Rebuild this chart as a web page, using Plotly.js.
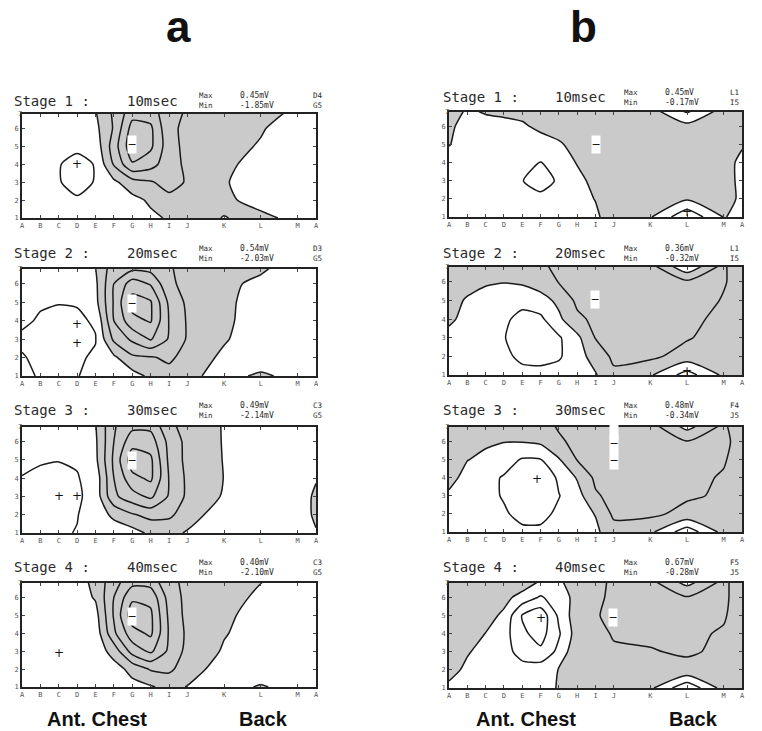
<!DOCTYPE html>
<html><head><meta charset="utf-8">
<script src="https://cdn.plot.ly/plotly-3.0.1.min.js"></script>
<style>html,body{margin:0;padding:0;background:#fff}#chart{width:762px;height:731px}</style>
</head><body><div id="chart"></div>
<script>
// ---- data ----
const columnLabels = ['A','B','C','D','E','F','G','H','I','J','K','L','M','A'];
const columnPos = [0,1,2,3,4,5,6,7,8,9,11,13,15,16];
const rowPos = [1,2,3,4,5,6,7];
const rowLabels = ['1','2','3','4','5','6'];
const panelNames = ['a','b'];
const regionNames = ['Ant. Chest','Back'];
const stageNames = ['Stage 1 :','Stage 2 :','Stage 3 :','Stage 4 :'];
const stageTimes = ['10msec','20msec','30msec','40msec'];
const mapMax = ['0.45mV','0.54mV','0.49mV','0.40mV','0.45mV','0.36mV','0.48mV','0.67mV'];
const mapMin = ['-1.85mV','-2.03mV','-2.14mV','-2.10mV','-0.17mV','-0.32mV','-0.34mV','-0.28mV'];
const mapMaxLead = ['D4','D3','C3','C3','L1','L1','F4','F5'];
const mapMinLead = ['G5','G5','G5','G5','I5','I5','J5','J5'];
const levelLow  = [-2,-2,-2,-2,-0.25,-0.25,-0.25,-0.25];
const levelHigh = [0.5,0.5,0.5,0.5,0.5,0.5,0.5,0.5];
const levelStep = [0.5,0.5,0.5,0.5,0.25,0.25,0.25,0.25];
const plusX = [[3],[3,3],[2,3],[2],[13],[13],[4.8],[5]];
const plusY = [[4],[3.8,2.8],[3,3],[2.9],[1.25],[1.22],[3.95],[4.85]];
const minusX = [[6],[6],[6],[6],[8],[7.95],[9,9],[8.95]];
const minusY = [[5.1],[4.95],[4.95],[4.95],[5],[5.05],[5.9,4.95],[4.87]];
const blankX = [[],[],[],[],[],[],[9],[]];
const blankY = [[],[],[],[],[],[],[6.55],[]];

// potential grids, rows y = 1..7, columns A..J,K,L,M,A
const potA1 = [
 [0.2,0.2,0.2,0.2,0.2,0.2,0.2,0.1,-0.05,-0.4,0.04,-0.3,0.35,0.3],
 [0.2,0.25,0.3,0.46,0.3,0.25,0.15,-0.08,-0.35,-0.35,-0.25,0.45,0.3,0.3],
 [0.2,0.3,0.48,0.62,0.48,0.1,-0.3,-0.45,-0.7,-0.45,-0.05,0.3,0.25,0.2],
 [0.2,0.3,0.48,0.62,0.48,-0.55,-1.45,-1.2,-0.7,-0.4,-0.15,0.25,0.2,0.2],
 [0.2,0.2,0.3,0.42,0.3,-0.75,-1.85,-1.6,-0.7,-0.35,-0.2,0.05,0.2,0.2],
 [0.2,0.2,0.2,0.2,0.13,-0.55,-1.7,-1.6,-0.6,-0.4,-0.3,-0.05,0.3,0.3],
 [0.2,0.2,0.2,0.2,0.02,-0.6,-1.25,-1.2,-0.7,-0.45,-0.35,-0.2,0.08,0.2]];
const potA2 = [
 [0.4,0.54,0.56,0.52,0.35,0.25,0.2,-0.1,-0.3,-0.1,0.15,-0.08,0.15,0.2],
 [0.48,0.56,0.58,0.55,0.45,0.1,-0.4,-0.45,-0.6,-0.3,0.1,0.3,0.25,0.2],
 [0.55,0.58,0.6,0.6,0.52,-0.6,-1.1,-1.55,-0.95,-0.45,-0.05,0.3,0.25,0.2],
 [0.45,0.53,0.56,0.57,0.45,-1.0,-1.85,-2.05,-0.98,-0.45,-0.1,0.25,0.2,0.2],
 [0.35,0.47,0.49,0.47,0.15,-1.05,-2.2,-2.05,-0.9,-0.4,-0.1,0.2,0.2,0.2],
 [0.3,0.35,0.35,0.3,0.1,-1.0,-1.75,-1.45,-0.6,-0.35,-0.1,0.1,0.2,0.2],
 [0.25,0.25,0.25,0.2,-0.02,-0.75,-0.7,-0.7,-0.55,-0.3,-0.2,-0.1,0.2,0.2]];
const potA3 = [
 [0.56,0.58,0.56,0.48,0.35,0.25,0.2,-0.1,-0.15,0.05,0.25,0.25,0.15,0.02],
 [0.58,0.6,0.58,0.52,0.25,-0.1,-0.45,-0.65,-0.6,-0.25,0.3,0.25,0.15,-0.05],
 [0.58,0.6,0.6,0.58,0.3,-0.9,-1.3,-1.6,-0.95,-0.4,0.05,0.2,0.15,-0.05],
 [0.52,0.57,0.58,0.53,0.3,-1.0,-1.85,-2.1,-0.98,-0.4,0.01,0.2,0.2,0.02],
 [0.38,0.47,0.49,0.45,0.12,-1.1,-2.3,-2.1,-0.9,-0.35,0.02,0.2,0.2,0.2],
 [0.35,0.38,0.4,0.3,0.08,-1.0,-1.8,-1.75,-0.85,-0.35,0.03,0.2,0.2,0.2],
 [0.3,0.3,0.3,0.2,0.02,-0.95,-1.3,-1.3,-0.6,-0.3,0.03,0.2,0.2,0.2]];
const potA4 = [
 [0.3,0.3,0.32,0.32,0.3,0.25,0.15,0.05,-0.15,0.02,0.2,-0.05,0.2,0.2],
 [0.3,0.33,0.36,0.35,0.3,0.2,-0.15,-0.55,-0.6,-0.25,0.25,0.3,0.2,0.2],
 [0.3,0.35,0.4,0.36,0.3,-0.2,-1.2,-1.6,-0.9,-0.35,0.05,0.25,0.2,0.2],
 [0.3,0.33,0.35,0.33,0.3,-0.9,-1.8,-2.1,-0.95,-0.4,-0.03,0.2,0.2,0.2],
 [0.28,0.3,0.3,0.3,0.18,-1.05,-2.3,-2.1,-0.9,-0.35,-0.1,0.2,0.2,0.2],
 [0.25,0.25,0.25,0.25,-0.05,-1.0,-1.9,-1.85,-0.8,-0.35,-0.2,0.1,0.2,0.2],
 [0.2,0.2,0.2,0.2,-0.15,-0.8,-1.25,-1.2,-0.65,-0.35,-0.2,-0.03,0.2,0.2]];
const potB1 = [
 [0.15,0.15,0.15,0.15,0.15,0.15,0.15,0.12,0.05,-0.15,-0.02,0.45,-0.01,0.05],
 [0.15,0.15,0.15,0.15,0.15,0.15,0.15,0.1,-0.01,-0.12,-0.15,-0.03,-0.1,0.05],
 [0.12,0.15,0.15,0.15,0.24,0.4,0.2,0.05,-0.05,-0.12,-0.12,-0.1,-0.08,0.05],
 [0.1,0.12,0.15,0.15,0.15,0.26,0.1,-0.01,-0.12,-0.14,-0.12,-0.1,-0.08,0.05],
 [-0.01,0.1,0.12,0.12,0.12,0.12,0.03,-0.08,-0.17,-0.15,-0.12,-0.1,-0.08,-0.02],
 [-0.05,0.1,0.1,0.1,0.04,-0.06,-0.1,-0.12,-0.14,-0.12,-0.1,-0.08,-0.1,-0.08],
 [-0.15,0.02,-0.05,-0.1,-0.1,-0.1,-0.1,-0.1,-0.1,-0.1,-0.05,0.35,-0.05,-0.1]];
const potB2 = [
 [0.1,0.12,0.15,0.15,0.18,0.2,0.15,0.1,0.02,-0.2,-0.03,0.36,-0.05,-0.08],
 [0.1,0.15,0.18,0.2,0.3,0.3,0.28,0.1,-0.1,-0.3,-0.3,-0.15,-0.1,-0.08],
 [0.1,0.15,0.18,0.24,0.35,0.35,0.28,0.06,-0.26,-0.3,-0.3,-0.27,-0.15,-0.1],
 [-0.06,0.1,0.15,0.22,0.3,0.3,0.05,-0.2,-0.3,-0.3,-0.3,-0.3,-0.2,-0.1],
 [-0.1,0.03,0.1,0.15,0.2,0.1,-0.06,-0.3,-0.32,-0.32,-0.3,-0.32,-0.24,-0.12],
 [-0.12,-0.1,-0.03,-0.01,-0.04,-0.12,-0.26,-0.3,-0.32,-0.3,-0.3,-0.3,-0.26,-0.2],
 [-0.15,-0.15,-0.12,-0.1,-0.12,-0.23,-0.29,-0.3,-0.3,-0.3,-0.26,0.3,-0.26,-0.2]];
const potB3 = [
 [0.1,0.12,0.15,0.18,0.2,0.2,0.15,0.1,0.05,-0.15,-0.05,0.4,-0.08,-0.1],
 [0.08,0.12,0.18,0.22,0.32,0.32,0.2,0.1,-0.01,-0.3,-0.3,-0.18,-0.15,-0.12],
 [0.05,0.1,0.18,0.27,0.4,0.42,0.26,0.1,-0.22,-0.32,-0.32,-0.28,-0.22,-0.15],
 [-0.1,0.1,0.18,0.27,0.4,0.48,0.2,-0.02,-0.3,-0.33,-0.32,-0.28,-0.24,-0.18],
 [-0.1,-0.008,0.06,0.15,0.27,0.26,0.02,-0.26,-0.32,-0.34,-0.32,-0.3,-0.26,-0.2],
 [-0.15,-0.12,-0.04,-0.01,-0.01,-0.05,-0.22,-0.3,-0.33,-0.34,-0.3,-0.26,-0.28,-0.2],
 [-0.12,-0.12,-0.12,-0.12,-0.12,-0.18,-0.28,-0.32,-0.33,-0.33,-0.3,0.15,-0.26,-0.2]];
const potB4 = [
 [0.05,0.1,0.1,0.1,0.1,0.05,-0.01,-0.1,-0.12,-0.12,-0.05,0.45,-0.1,-0.1],
 [-0.08,0.05,0.1,0.12,0.15,0.1,-0.01,-0.15,-0.18,-0.2,-0.2,-0.2,-0.15,-0.12],
 [-0.1,-0.02,0.08,0.15,0.35,0.45,0.18,-0.2,-0.2,-0.22,-0.24,-0.27,-0.22,-0.16],
 [-0.12,-0.1,0.005,0.15,0.45,0.6,0.28,-0.12,-0.18,-0.27,-0.28,-0.27,-0.24,-0.18],
 [-0.15,-0.12,-0.1,0.05,0.52,0.67,0.2,-0.15,-0.24,-0.28,-0.28,-0.28,-0.26,-0.2],
 [-0.15,-0.15,-0.12,-0.08,0.1,0.28,0.12,-0.08,-0.2,-0.3,-0.27,-0.27,-0.27,-0.2],
 [-0.15,-0.15,-0.15,-0.15,-0.2,-0.02,0.03,-0.15,-0.2,-0.28,-0.27,0.15,-0.27,-0.2]];

// ---- layout helpers ----
const W = 762, H = 731;
const maps = [potA1, potA2, potA3, potA4, potB1, potB2, potB3, potB4];
const frames = [[22,114,316,218],[22,269,316,376],[22,427,316,533],[22,583,316,687],
                [449,112,742,217],[449,267,742,375],[449,427,742,532],[449,583,742,688]];
const titleY = [101,253,410,567,97,253,410,567];
const colX = {a:[12,125,197,238,311], b:[441,553,622,663,728]};
const GRAY = '#cacaca';
const MONO = 'DejaVu Sans Mono';
const px = v => v / W, py = v => 1 - v / H;

const traces = [], annotations = [];
const layout = {width:W, height:H, margin:{l:0,r:0,t:0,b:0}, paper_bgcolor:'#fff',
  plot_bgcolor:'#fff', showlegend:false, hovermode:false, annotations};

maps.forEach((z, i) => {
  const s = i === 0 ? '' : String(i + 1);
  const [l, t, r, b] = frames[i];
  const axisCommon = {showgrid:false, zeroline:false, showline:true, linecolor:'#222', linewidth:2,
    mirror:'ticks', ticks:'inside', ticklen:3, tickwidth:1, tickcolor:'#444', fixedrange:true,
    tickfont:{family:MONO, size:7, color:'#555'}};
  layout['xaxis' + s] = Object.assign({}, axisCommon, {domain:[px(l), px(r)], range:[0,16],
    anchor:'y' + s, tickmode:'array', tickvals:columnPos, ticktext:columnLabels});
  layout['yaxis' + s] = Object.assign({}, axisCommon, {domain:[py(b), py(t)], range:[1,6.8],
    anchor:'x' + s, tickmode:'array', tickvals:rowLabels.map(Number), ticktext:rowLabels});
  const start = levelLow[i], end = levelHigh[i], size = levelStep[i];
  const nc = Math.round((end - start) / size) + 1;
  const lo = start - size / 2, hi = start + (nc - 0.5) * size;
  const f = (0 - lo) / (hi - lo);
  traces.push({type:'contour', x:columnPos, y:rowPos, z, xaxis:'x' + s, yaxis:'y' + s,
    autocontour:false, contours:{start, end, size, coloring:'fill', showlines:true},
    colorscale:[[0,GRAY],[f,GRAY],[f,'#ffffff'],[1,'#ffffff']], showscale:false,
    line:{color:'#1a1a1a', width:1.5, smoothing:0.6}, hoverinfo:'skip'});

  // "7" label above the frame
  annotations.push({xref:'x' + s + ' domain', yref:'y' + s + ' domain', x:-0.022, y:1.06,
    text:'7', showarrow:false, font:{family:MONO, size:7, color:'#555'}});
  // header
  const side = i < 4 ? 'a' : 'b';
  const cx = colX[side], yy = titleY[i];
  const head = (x, text, size) => annotations.push({xref:'paper', yref:'paper', x:px(x), y:py(yy),
    xanchor:'left', yanchor:'middle', align:'left', text, showarrow:false,
    font:{family:MONO, size, color:'#2a2a2a'}});
  head(cx[0], stageNames[i % 4], 14);
  head(cx[1], stageTimes[i % 4], 14);
  head(cx[2], 'Max<br>Min', 7.5);
  head(cx[3], mapMax[i] + '<br>' + mapMin[i], 8);
  head(cx[4], mapMaxLead[i] + '<br>' + mapMinLead[i], 7.5);
  // marks
  const box = {showarrow:false, bgcolor:'#ffffff', width:8, height:17, borderpad:0,
    font:{family:'DejaVu Sans', size:11, color:'#111'}};
  blankX[i].forEach((x, k) => annotations.push(Object.assign({xref:'x' + s, yref:'y' + s, x,
    y:blankY[i][k], text:'\u00a0'}, box)));
  plusX[i].forEach((x, k) => annotations.push({xref:'x' + s, yref:'y' + s, x, y:plusY[i][k], text:'+',
    showarrow:false, font:{family:'DejaVu Sans', size:12, color:'#111'}}));
  minusX[i].forEach((x, k) => annotations.push(Object.assign({xref:'x' + s, yref:'y' + s, x,
    y:minusY[i][k], text:'−'}, box)));
});

// panel letters and region labels
[[178, panelNames[0]], [583, panelNames[1]]].forEach(([x, t]) => annotations.push({xref:'paper', yref:'paper',
  x:px(x), y:1, xanchor:'center', yanchor:'top', text:'<b>' + t + '</b>', showarrow:false,
  font:{family:'Liberation Sans', size:44, color:'#111'}}));
[[97, 263], [526, 693]].forEach(pair => pair.forEach((x, k) => annotations.push({xref:'paper', yref:'paper',
  x:px(x), y:py(719), xanchor:'center', yanchor:'middle', text:'<b>' + regionNames[k] + '</b>',
  showarrow:false, font:{family:'Liberation Sans', size:20, color:'#111'}})));

Plotly.newPlot('chart', traces, layout, {staticPlot:true, displayModeBar:false});
</script></body></html>
